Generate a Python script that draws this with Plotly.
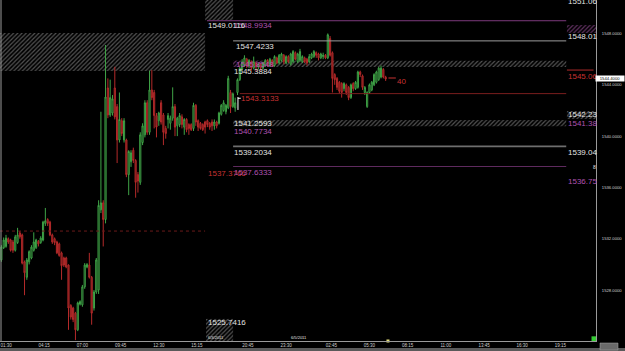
import plotly.graph_objects as go

# ---------------- candle data (10-minute bars) ----------------
opens = [
    1530.35, 1531.3, 1531.4, 1532.0, 1531.9, 1531.75, 1531.1, 1531.7, 1532.45, 1532.3,
    1530.2, 1529.0, 1530.2, 1530.5, 1531.1, 1531.3, 1531.8, 1531.7, 1531.9, 1533.2,
    1533.5, 1533.3, 1532.3, 1532.0, 1531.75, 1531.6, 1530.9, 1530.5, 1530.5, 1529.95,
    1526.8, 1526.6, 1526.2, 1524.9, 1526.9, 1526.85, 1528.25, 1529.8, 1529.95, 1529.0,
    1526.6, 1527.85, 1528.0,
    1534.25, 1534.8, 1533.5, 1543.75, 1541.65, 1541.8, 1543.75, 1542.3, 1539.7, 1541.2,
    1539.7, 1539.7, 1537.0, 1538.0, 1538.9, 1538.1, 1537.0, 1536.4, 1539.5, 1540.1,
    1542.6, 1540.3, 1543.6, 1543.4, 1541.6, 1541.2, 1542.6, 1541.65, 1540.6, 1541.3,
    1541.0, 1541.4, 1542.3, 1540.8, 1540.9, 1541.5, 1540.7, 1541.3, 1540.9, 1540.9,
    1540.6, 1542.4, 1541.2, 1541.0, 1540.9, 1541.1,
    1541.2, 1541.0, 1541.1, 1540.8, 1541.1, 1541.0, 1541.7, 1542.0, 1541.9, 1542.2,
    1543.4, 1542.3, 1542.2, 1543.4, 1544.4, 1545.2, 1545.5, 1546.0, 1545.5, 1545.8,
    1545.3, 1545.7, 1545.4, 1545.6, 1545.3, 1545.5, 1545.9, 1545.5, 1545.9, 1545.5,
    1546.1, 1545.7, 1545.9, 1546.3, 1545.7, 1546.2, 1545.6, 1545.8, 1546.5, 1545.8,
    1545.9,
    1545.8, 1546.1, 1546.0, 1545.8, 1546.1, 1546.2, 1546.5, 1546.4, 1546.1, 1546.2,
    1546.3, 1546.1, 1547.6, 1546.5, 1544.8, 1544.5, 1544.2, 1544.1, 1543.7, 1544.0,
    1543.8, 1543.0, 1544.1, 1543.7, 1543.8, 1545.0, 1544.7, 1543.4, 1542.3, 1543.4,
    1543.6, 1544.0, 1544.2, 1544.4, 1544.6, 1545.2, 1544.6,
]
highs = [
    1531.5, 1532.1, 1532.3, 1532.1, 1532.0, 1531.9, 1532.3, 1532.85, 1532.6, 1532.4,
    1530.3, 1530.5, 1531.1, 1531.5, 1532.5, 1532.0, 1531.9, 1532.2, 1533.4, 1534.4,
    1533.6, 1533.4, 1532.4, 1532.1, 1531.85, 1531.7, 1531.0, 1530.6, 1530.6, 1530.0,
    1526.9, 1526.7, 1526.3, 1527.1, 1527.2, 1528.4, 1530.1, 1530.1, 1530.9, 1529.1,
    1528.0, 1530.5, 1535.0,
    1541.9, 1535.0, 1547.1, 1544.5, 1544.4, 1543.2, 1545.4, 1542.5, 1543.4, 1541.4,
    1541.4, 1539.8, 1538.9, 1538.9, 1539.1, 1538.2, 1537.2, 1540.3, 1541.0, 1542.8,
    1542.8, 1545.1, 1545.15, 1543.6, 1541.8, 1541.9, 1542.8, 1541.8, 1540.8, 1541.8,
    1541.6, 1543.8, 1542.5, 1541.5, 1541.8, 1541.7, 1541.4, 1541.4, 1541.0, 1541.0,
    1542.6, 1542.5, 1541.3, 1541.1, 1541.0, 1541.2,
    1541.3, 1541.1, 1541.3, 1541.3, 1541.2, 1541.9, 1542.5, 1542.8, 1542.5, 1544.7,
    1543.6, 1543.4, 1543.0, 1544.5, 1545.4, 1546.0, 1546.3, 1546.1, 1546.0, 1545.9,
    1546.2, 1545.8, 1545.7, 1545.7, 1545.8, 1546.0, 1546.0, 1546.1, 1546.0, 1546.3,
    1546.2, 1546.4, 1546.5, 1546.4, 1546.3, 1546.3, 1546.5, 1546.7, 1546.6, 1546.5,
    1546.8,
    1546.3, 1546.2, 1546.1, 1546.4, 1546.5, 1546.7, 1546.6, 1546.5, 1546.5, 1546.5,
    1546.4, 1548.0, 1547.8, 1546.6, 1544.9, 1544.6, 1544.3, 1544.2, 1544.2, 1544.1,
    1543.9, 1544.1, 1544.2, 1544.3, 1545.1, 1545.1, 1544.8, 1543.9, 1543.5, 1544.1,
    1544.3, 1544.9, 1545.1, 1545.4, 1545.5, 1545.3, 1544.7,
]
lows = [
    1530.2, 1531.2, 1531.3, 1531.6, 1531.0, 1530.9, 1531.0, 1531.6, 1532.0, 1530.0,
    1527.6, 1528.8, 1530.0, 1530.4, 1531.0, 1531.2, 1531.4, 1531.6, 1531.8, 1533.0,
    1533.0, 1532.2, 1531.6, 1531.5, 1530.8, 1530.6, 1528.8, 1529.8, 1529.7, 1524.9,
    1525.7, 1525.5, 1524.1, 1524.8, 1526.8, 1526.7, 1528.1, 1529.7, 1528.9, 1525.3,
    1526.4, 1527.7, 1527.7,
    1534.0, 1531.4, 1533.2, 1541.4, 1541.5, 1541.6, 1541.3, 1537.9, 1539.5, 1540.0,
    1539.5, 1536.8, 1535.4, 1537.6, 1537.9, 1535.2, 1535.6, 1536.2, 1539.3, 1539.9,
    1540.1, 1540.1, 1542.8, 1540.6, 1539.9, 1540.8, 1540.9, 1539.3, 1539.8, 1540.6,
    1540.5, 1541.2, 1540.0, 1540.0, 1540.7, 1540.6, 1540.1, 1540.3, 1540.1, 1540.4,
    1540.4, 1540.8, 1540.4, 1540.5, 1540.4, 1540.2,
    1540.7, 1540.5, 1540.4, 1540.5, 1540.6, 1540.9, 1541.6, 1541.9, 1541.7, 1542.1,
    1541.8, 1542.2, 1541.9, 1543.2, 1544.3, 1545.1, 1545.4, 1545.3, 1545.3, 1545.1,
    1545.2, 1545.0, 1545.2, 1545.1, 1545.2, 1545.4, 1545.4, 1545.4, 1545.4, 1545.4,
    1545.6, 1545.6, 1545.8, 1545.6, 1545.6, 1545.7, 1545.5, 1545.7, 1545.9, 1545.7,
    1545.8,
    1545.7, 1545.7, 1545.5, 1545.7, 1546.0, 1546.1, 1546.1, 1545.9, 1546.0, 1546.0,
    1546.0, 1546.0, 1546.2, 1543.4, 1544.0, 1543.6, 1543.3, 1543.0, 1543.5, 1543.2,
    1542.8, 1542.9, 1543.5, 1543.6, 1543.7, 1544.6, 1543.6, 1543.2, 1542.2, 1543.3,
    1543.5, 1543.9, 1544.1, 1544.3, 1544.5, 1544.5, 1544.3,
]
closes = [
    1531.35, 1531.9, 1532.05, 1531.75, 1531.1, 1531.1, 1532.15, 1532.3, 1532.15, 1530.1,
    1529.35, 1530.35, 1531.0, 1531.35, 1531.75, 1531.9, 1531.6, 1532.05, 1533.3, 1533.4,
    1533.2, 1532.3, 1531.75, 1531.7, 1530.9, 1530.7, 1529.9, 1529.95, 1529.8, 1526.6,
    1525.9, 1525.7, 1524.9, 1527.0, 1527.1, 1528.25, 1529.95, 1530.0, 1529.0, 1526.2,
    1527.85, 1530.35, 1534.6,
    1534.8, 1533.5, 1543.05, 1541.65, 1543.0, 1542.9, 1541.5, 1539.7, 1541.3, 1540.2,
    1541.2, 1537.0, 1538.8, 1538.7, 1538.1, 1536.4, 1536.5, 1540.1, 1540.8, 1542.6,
    1540.3, 1543.6, 1543.0, 1541.6, 1540.7, 1541.8, 1541.1, 1540.3, 1540.2, 1541.6,
    1541.4, 1542.3, 1540.7, 1541.4, 1541.6, 1540.9, 1541.3, 1540.5, 1540.6, 1540.5,
    1542.4, 1541.1, 1540.7, 1540.6, 1540.5, 1540.7,
    1540.9, 1540.7, 1540.8, 1541.1, 1540.8, 1541.8, 1542.4, 1542.6, 1542.4, 1544.5,
    1542.3, 1543.3, 1542.6, 1544.4, 1545.3, 1545.8, 1546.1, 1545.5, 1545.9, 1545.3,
    1545.8, 1545.4, 1545.6, 1545.3, 1545.7, 1545.9, 1545.6, 1546.0, 1545.5, 1546.2,
    1545.7, 1546.3, 1546.4, 1545.8, 1546.2, 1545.8, 1546.4, 1546.6, 1546.0, 1546.4,
    1546.6,
    1546.2, 1545.8, 1545.7, 1546.2, 1546.4, 1546.6, 1546.3, 1546.1, 1546.4, 1546.3,
    1546.1, 1547.9, 1546.3, 1544.5, 1544.4, 1543.8, 1543.5, 1543.4, 1544.1, 1543.4,
    1543.0, 1544.0, 1543.7, 1544.2, 1545.0, 1544.8, 1543.8, 1543.8, 1543.4, 1544.0,
    1544.2, 1544.8, 1545.0, 1545.3, 1545.3, 1544.6, 1544.45,
]
bar_index = list(range(-2, -2 + len(opens)))

# ---------------- axes ----------------
time_ticks = [0, 16.5, 33, 49.5, 66, 82.5, 104.5, 121, 140.5, 157, 173.5, 190, 206.5, 223, 239.5]
time_labels = ["01:30", "04:15", "07:00", "09:45", "12:30", "15:15", "20:45", "23:30",
               "02:45", "05:30", "08:15", "11:00", "13:45", "16:30", "19:15"]
price_ticks = [1524, 1528, 1532, 1536, 1540, 1544, 1548]
price_labels = ["%.4f" % v for v in price_ticks]
last_price = 1544.49
last_price_label = "1544.4000"

# ---------------- levels ----------------
MAG = "#7d3a7d"
MAG_T = "#b052b0"
RED_L = "#7a1e1e"
RED_T = "#c83232"
WHITE_T = "#e2e2e2"

level_prices = [1548.9934, 1547.4233, 1543.3133, 1539.2034, 1537.6333, 1532.60, 1545.15]
level_start = [86.8, 98.1, 101.0, 98.1, 98.1, -2.6, 242.3]
level_end = [242.0, 242.0, 242.0, 242.0, 242.0, 86.0, 253.8]
level_colors = [MAG, "#9c9c9c", RED_L, "#6e6e6e", "#5e2a5e", "#6a1a1a", "#b02a2a"]
level_widths = [1, 1, 1, 1.6, 1.2, 1, 1]
level_dash = ["solid", "solid", "solid", "solid", "solid", "dot", "solid"]

# hatched zones
zone_x0 = [-2.6, 86.0, 98.1, 98.1, 98.1, 86.4, 242.3, 242.3]
zone_x1 = [86.0, 98.1, 242.0, 114.0, 242.0, 98.1, 254.9, 254.9]
zone_low = [1545.08, 1549.02, 1545.39, 1545.39, 1540.77, 1524.03, 1548.04, 1541.34]
zone_high = [1548.04, 1550.8, 1545.88, 1545.88, 1541.26, 1525.75, 1548.66, 1541.96]
zone_colors = ["#a6a6a6", "#a6a6a6", "#a6a6a6", "#c060c0", "#a6a6a6", "#a6a6a6", "#c060c0", "#b0b0b0"]

# text labels: text, bar position, price, colour
label_text = ["1548.9934", "1549.0116", "1547.4233", "1545.8548", "1545.3884", "1543.3133",
              "1541.2593", "1540.7734", "1539.2034", "1537.3766", "1537.6333", "1525.7416",
              "1551.06", "1548.01", "1545.06", "1542.23", "1541.38", "1539.04", "1536.75"]
label_x = [98.1, 86.8, 98.9, 98.9, 98.1, 101.0, 98.1, 98.1, 98.1, 86.8, 98.1, 86.8,
           242.3, 242.3, 242.3, 242.3, 242.3, 242.3, 242.3]
label_y = [1548.66, 1548.66, 1547.02, 1545.62, 1545.00, 1542.97, 1541.0, 1540.33, 1538.76,
           1537.05, 1537.20, 1525.44,
           1550.5, 1547.73, 1544.61, 1541.65, 1540.95, 1538.76, 1536.43]
label_colors = [MAG_T, WHITE_T, WHITE_T, MAG_T, WHITE_T, RED_T, WHITE_T, MAG_T, WHITE_T,
                RED_T, MAG_T, WHITE_T,
                WHITE_T, WHITE_T, RED_T, WHITE_T, MAG_T, WHITE_T, MAG_T]

FONT = "Liberation Sans, Arial, sans-serif"

fig = go.Figure()

# hatched zones drawn as patterned bars
for x0, x1, lo, hi, col in zip(zone_x0, zone_x1, zone_low, zone_high, zone_colors):
    fig.add_trace(go.Bar(
        x=[(x0 + x1) / 2], y=[hi - lo], base=[lo], width=[x1 - x0],
        marker=dict(color="black", line=dict(width=0),
                    pattern=dict(shape="/", fgcolor=col, bgcolor="black", size=3, solidity=0.4)),
        hoverinfo="skip"))

# level lines
for p, s, e, c, w, d in zip(level_prices, level_start, level_end, level_colors, level_widths, level_dash):
    fig.add_trace(go.Scatter(x=[s, e], y=[p, p], mode="lines",
                             line=dict(color=c, width=w, dash=d), hoverinfo="skip"))

# candles
fig.add_trace(go.Candlestick(
    x=bar_index, open=opens, high=highs, low=lows, close=closes,
    increasing=dict(line=dict(color="#3fa447", width=1), fillcolor="black"),
    decreasing=dict(line=dict(color="#b42a2a", width=1), fillcolor="#5c1212"),
    whiskerwidth=0, hoverinfo="skip"))

# cursor marker and small red tag
fig.add_trace(go.Scatter(x=[100.2, 100.2, None, 100.2, 101.4], y=[1542.04, 1543.05, None, 1542.95, 1542.95],
                         mode="lines", line=dict(color="white", width=1), hoverinfo="skip"))
fig.add_trace(go.Scatter(x=[165.2, 168.4], y=[1544.53, 1544.53], mode="lines",
                         line=dict(color=RED_T, width=1), hoverinfo="skip"))
fig.add_trace(go.Scatter(x=[254.0], y=[1524.2], mode="markers", cliponaxis=False,
                         marker=dict(symbol="square", size=5, color="#33cc33"), hoverinfo="skip"))
fig.add_trace(go.Scatter(x=[165.0], y=[1524.03], mode="markers", cliponaxis=False,
                         marker=dict(symbol="square", size=3, color="#e6e07a"), hoverinfo="skip"))

annotations = []
for t, x, y, c in zip(label_text, label_x, label_y, label_colors):
    annotations.append(dict(text=t, x=x, y=y, xref="x", yref="y", xanchor="left", yanchor="middle",
                            showarrow=False, borderpad=0, font=dict(family=FONT, size=8, color=c)))
annotations += [
    dict(text="40", x=168.6, y=1544.22, xref="x", yref="y", xanchor="left", yanchor="middle",
         showarrow=False, borderpad=0, font=dict(family=FONT, size=8, color=RED_T)),
    dict(text="8", x=253.2, y=1537.6, xref="x", yref="y", xanchor="left", yanchor="middle",
         showarrow=False, borderpad=0, font=dict(family=FONT, size=5, color=WHITE_T)),
    dict(text="6/3/2011", x=86.8, y=1524.3, xref="x", yref="y", xanchor="left", yanchor="middle",
         showarrow=False, borderpad=0, font=dict(family=FONT, size=4, color=WHITE_T)),
    dict(text="6/5/2011", x=122.5, y=1524.3, xref="x", yref="y", xanchor="left", yanchor="middle",
         showarrow=False, borderpad=0, font=dict(family=FONT, size=4, color=WHITE_T)),
    dict(text=last_price_label, x=1, y=last_price, xref="paper", yref="y", xanchor="right",
         yanchor="middle", showarrow=False, bgcolor="white", width=28, height=5, borderpad=0,
         font=dict(family=FONT, size=4.2, color="black")),
]

shapes = [
    dict(type="line", xref="paper", yref="paper", x0=0.0016, x1=0.0016, y0=10 / 351, y1=1,
         line=dict(color="#9a9a9a", width=1)),
    dict(type="rect", xref="paper", yref="paper", x0=0, x1=1, y0=0, y1=3 / 351,
         fillcolor="#5a5a5a", line=dict(width=0)),
    dict(type="rect", xref="paper", yref="paper", x0=600 / 625, x1=618 / 625, y0=1 / 351, y1=8 / 351,
         fillcolor="#6a6a6a", line=dict(color="#aaaaaa", width=0.5)),
]

fig.update_layout(
    width=625, height=351, margin=dict(l=0, r=0, t=0, b=0),
    paper_bgcolor="black", plot_bgcolor="black", showlegend=False, barmode="overlay",
    annotations=annotations, shapes=shapes,
    xaxis=dict(domain=[0, 596 / 625], range=[-2.59, 254.86], tickvals=time_ticks, ticktext=time_labels,
               tickfont=dict(family=FONT, size=4.5, color="#cfcfcf"), showgrid=False, zeroline=False,
               showline=True, linecolor="#9a9a9a", linewidth=1, ticks="",
               rangeslider=dict(visible=False), fixedrange=True),
    yaxis=dict(domain=[10 / 351, 1], range=[1524.03, 1550.61], side="right",
               tickvals=price_ticks, ticktext=price_labels,
               tickfont=dict(family=FONT, size=4.2, color="#cfcfcf"), showgrid=False, zeroline=False,
               showline=True, linecolor="#9a9a9a", linewidth=1, ticks="", ticklabelstandoff=4,
               fixedrange=True),
)

fig.write_html("out.html")
